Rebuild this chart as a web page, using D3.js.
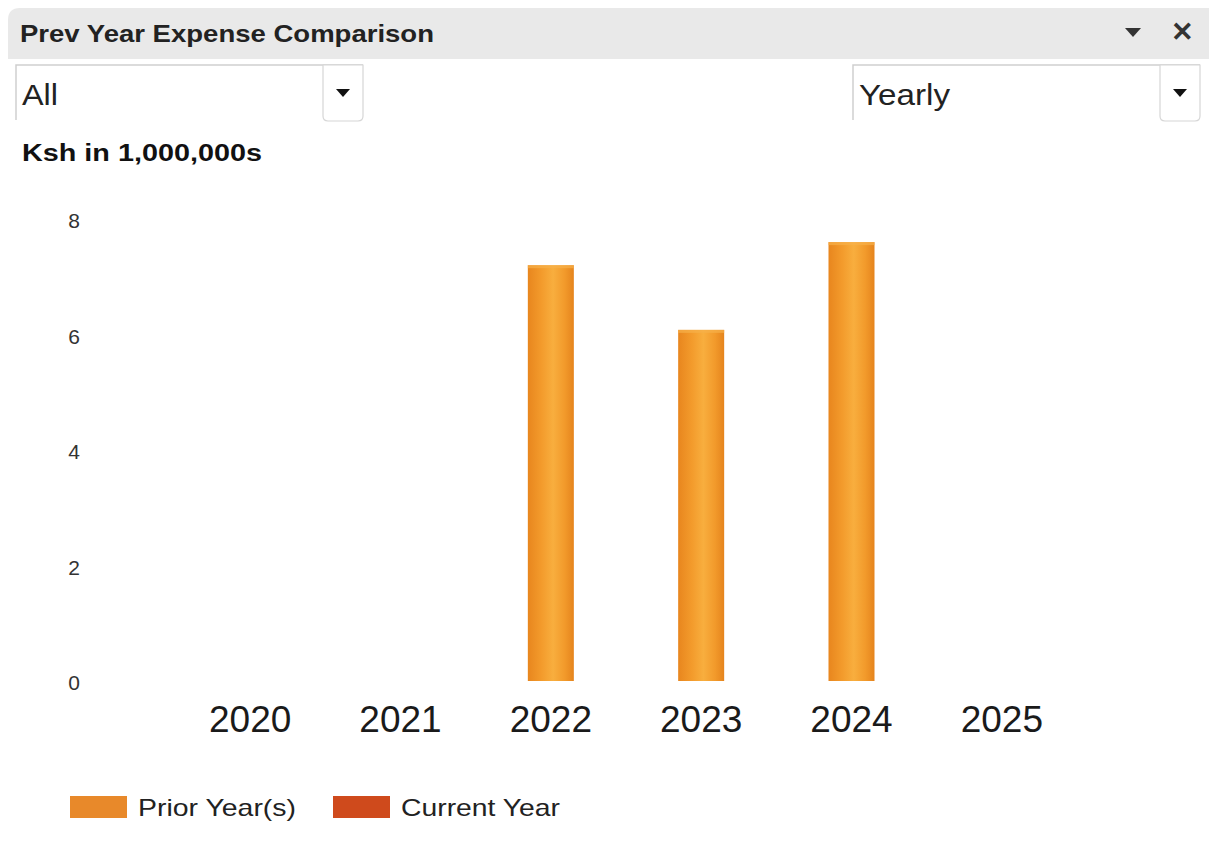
<!DOCTYPE html>
<html>
<head>
<meta charset="utf-8">
<script src="https://cdn.jsdelivr.net/npm/d3@7"></script>
<style>
  html, body { margin: 0; padding: 0; background: #fff; }
  svg { display: block; font-family: "Liberation Sans", Arial, sans-serif; }
</style>
</head>
<body>
<svg id="chart" width="1209" height="860"></svg>
<script>
// Expense totals per year, in millions of Ksh
const years = ["2020", "2021", "2022", "2023", "2024", "2025"];
const priorYearValues = [null, null, 7.2, 6.08, 7.6, null];
const currentYearValues = [null, null, null, null, null, null];
const yTicks = [0, 2, 4, 6, 8];
const legendItems = ["Prior Year(s)", "Current Year"];
const legendColors = ["#e8892a", "#cf4a1c"];

const svg = d3.select("#chart");
const defs = svg.append("defs");

// Cylindrical shading for the bars
const grad = defs.append("linearGradient").attr("id", "barGrad")
  .attr("x1", "0%").attr("x2", "100%").attr("y1", "0%").attr("y2", "0%");
[["0%", "#e8861e"], ["30%", "#f39b2c"], ["55%", "#f8ae3e"], ["80%", "#f29a2b"], ["100%", "#e5841d"]]
  .forEach(([o, c]) => grad.append("stop").attr("offset", o).attr("stop-color", c));

// Panel header
svg.append("path")
  .attr("d", "M8,59 L8,20 Q8,8 20,8 L1209,8 L1209,59 Z")
  .attr("fill", "#e9e9e9");
svg.append("text").attr("x", 20).attr("y", 42)
  .attr("font-size", 24).attr("font-weight", "bold").attr("fill", "#222")
  .attr("textLength", 414).attr("lengthAdjust", "spacingAndGlyphs")
  .text("Prev Year Expense Comparison");
// header controls
svg.append("path").attr("d", "M1125,28 L1141,28 L1133,37 Z").attr("fill", "#333");
svg.append("text").attr("x", 1182).attr("y", 41).attr("text-anchor", "middle")
  .attr("font-size", 27).attr("font-weight", "bold").attr("fill", "#333").text("✕");

// Dropdown selectors
function dropdown(x, w, label, len) {
  const g = svg.append("g");
  g.append("path").attr("d", `M${x},120 L${x},65 L${x + w},65`)
    .attr("fill", "none").attr("stroke", "#cfcfcf").attr("stroke-width", 1.5);
  g.append("path")
    .attr("d", `M${x + w - 40},65 L${x + w},65 L${x + w},116 Q${x + w},121 ${x + w - 5},121 L${x + w - 35},121 Q${x + w - 40},121 ${x + w - 40},116 Z`)
    .attr("fill", "#fff").attr("stroke", "#d6d6d6").attr("stroke-width", 1.2);
  g.append("path").attr("d", `M${x + w - 27},89 L${x + w - 13},89 L${x + w - 20},97 Z`).attr("fill", "#111");
  g.append("text").attr("x", x + 6).attr("y", 105).attr("font-size", 29).attr("fill", "#222")
    .attr("textLength", len).attr("lengthAdjust", "spacingAndGlyphs").text(label);
}
dropdown(16, 347, "All", 36);
dropdown(853, 347, "Yearly", 91);

// Axis unit label
svg.append("text").attr("x", 22).attr("y", 161)
  .attr("font-size", 23).attr("font-weight", "bold").attr("fill", "#111")
  .attr("textLength", 240).attr("lengthAdjust", "spacingAndGlyphs")
  .text("Ksh in 1,000,000s");

// Scales
const x = d3.scaleBand().domain(years).range([175, 1077]).paddingInner(0).paddingOuter(0);
const y = d3.scaleLinear().domain([0, 8]).range([681, 219]);
const barWidth = 46;

// Y axis labels (no axis line)
const yAxis = d3.axisLeft(y).tickValues(yTicks).tickSize(0).tickPadding(0).tickFormat(d3.format("d"));
const yG = svg.append("g").attr("transform", "translate(80,0)").call(yAxis);
yG.select(".domain").remove();
yG.selectAll("text").attr("font-size", 21).attr("fill", "#333")
  .attr("font-family", "Liberation Sans, Arial, sans-serif")
  .attr("text-anchor", "middle").attr("dx", -6).attr("dy", "0.42em");

// X axis year labels
const xAxis = d3.axisBottom(x).tickSize(0).tickPadding(0);
const xG = svg.append("g").attr("transform", "translate(0,699)").call(xAxis);
xG.select(".domain").remove();
xG.selectAll("text").attr("font-size", 37).attr("fill", "#1a1a1a")
  .attr("font-family", "Liberation Sans, Arial, sans-serif").attr("dy", "0.9em");

// Bars: prior years
const bars = years.map((yr, i) => ({ yr, v: priorYearValues[i] })).filter(d => d.v != null);
svg.append("g").selectAll("rect").data(bars).join("rect")
  .attr("x", d => x(d.yr) + x.bandwidth() / 2 - barWidth / 2)
  .attr("width", barWidth)
  .attr("y", d => y(d.v))
  .attr("height", d => y(0) - y(d.v))
  .attr("fill", "url(#barGrad)");
// subtle rim at bar tops
svg.append("g").selectAll("rect").data(bars).join("rect")
  .attr("x", d => x(d.yr) + x.bandwidth() / 2 - barWidth / 2)
  .attr("width", barWidth)
  .attr("y", d => y(d.v))
  .attr("height", 3)
  .attr("fill", "#f6b04a").attr("opacity", 0.7);

// Bars: current year
const curBars = years.map((yr, i) => ({ yr, v: currentYearValues[i] })).filter(d => d.v != null);
svg.append("g").selectAll("rect").data(curBars).join("rect")
  .attr("x", d => x(d.yr) + x.bandwidth() / 2 - barWidth / 2)
  .attr("width", barWidth)
  .attr("y", d => y(d.v))
  .attr("height", d => y(0) - y(d.v))
  .attr("fill", legendColors[1]);

// Legend
const legendX = [70, 333];
const legendLen = [158, 159];
const lg = svg.append("g");
legendItems.forEach((name, i) => {
  lg.append("rect").attr("x", legendX[i]).attr("y", 796).attr("width", 57).attr("height", 22)
    .attr("fill", legendColors[i]);
  lg.append("text").attr("x", legendX[i] + 68).attr("y", 816)
    .attr("font-size", 24).attr("fill", "#222")
    .attr("textLength", legendLen[i]).attr("lengthAdjust", "spacingAndGlyphs").text(name);
});
</script>
</body>
</html>
